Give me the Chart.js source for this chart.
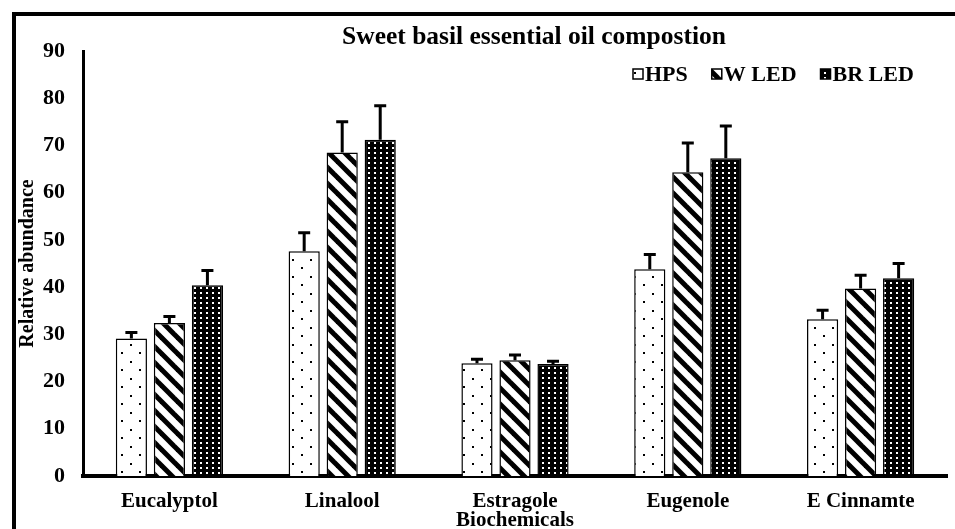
<!DOCTYPE html>
<html>
<head>
<meta charset="utf-8">
<script src="https://cdn.jsdelivr.net/npm/chart.js"></script>
<style>
  html, body { margin: 0; padding: 0; background: #fff; overflow: hidden; }
  #wrap { position: relative; width: 955px; height: 533px; }
  #marco { position: absolute; left: 12px; top: 12px; right: 0; bottom: 0;
           border-left: 4px solid #000; border-top: 4px solid #000; }
  canvas { position: absolute; left: 0; top: 0; }
</style>
</head>
<body>
<div id="wrap">
  <div id="marco"></div>
  <canvas id="myChart" width="955" height="533"></canvas>
</div>
<script>
// datos
const categorias = ['Eucalyptol', 'Linalool', 'Estragole', 'Eugenole', 'E Cinnamte'];
const series = ['HPS', 'W LED', 'BR LED'];
const valoresHPS = [29.1, 47.6, 23.9, 43.8, 33.2];
const erroresHPS = [1.3, 3.9, 0.8, 3.1, 1.9];
const valoresW = [32.4, 68.5, 24.5, 64.3, 39.7];
const erroresW = [1.4, 6.5, 1.1, 6.2, 2.8];
const valoresBR = [40.4, 71.2, 23.7, 67.3, 41.9];
const erroresBR = [3.1, 7.2, 0.6, 6.8, 3.1];
const yMin = 0, yMax = 90, yPaso = 10;
const titulo = 'Sweet basil essential oil compostion';
const tituloY = 'Relative abundance';
const tituloX = 'Biochemicals';

const fuente = '"Liberation Serif", "Times New Roman", serif';

function hacerPatron(w, h, dibujar) {
  const c = document.createElement('canvas');
  c.width = w; c.height = h;
  const g = c.getContext('2d');
  dibujar(g, w, h);
  return g.createPattern(c, 'repeat');
}

// puntos sueltos sobre blanco
const patronHPS = hacerPatron(18, 17, (g, w, h) => {
  g.fillStyle = '#fff'; g.fillRect(0, 0, w, h);
  g.fillStyle = '#000';
  g.fillRect(4, 4, 2, 2);
  g.fillRect(13, 12, 2, 2);
});
// rayas diagonales gruesas
const patronW = hacerPatron(16, 16, (g, w, h) => {
  g.fillStyle = '#fff'; g.fillRect(0, 0, w, h);
  g.strokeStyle = '#000'; g.lineWidth = 5;
  for (let k = -1; k <= 1; k++) {
    g.beginPath();
    g.moveTo(k * w - w, -h);
    g.lineTo(k * w + 2 * w, 2 * h);
    g.stroke();
  }
});
// negro con puntos blancos
const patronBR = hacerPatron(6, 5, (g, w, h) => {
  g.fillStyle = '#000'; g.fillRect(0, 0, w, h);
  g.fillStyle = '#fff';
  g.fillRect(2, 2, 2, 2);
});

const barrasError = {
  id: 'barrasError',
  afterDatasetsDraw(chart) {
    const ctx = chart.ctx;
    const escalaY = chart.scales.y;
    chart.data.datasets.forEach((ds, i) => {
      const meta = chart.getDatasetMeta(i);
      meta.data.forEach((barra, j) => {
        const arriba = escalaY.getPixelForValue(ds.data[j] + ds.errores[j]);
        ctx.save();
        ctx.strokeStyle = '#000';
        ctx.lineWidth = 3;
        ctx.beginPath();
        ctx.moveTo(barra.x, barra.y);
        ctx.lineTo(barra.x, arriba);
        ctx.moveTo(barra.x - 6, arriba);
        ctx.lineTo(barra.x + 6, arriba);
        ctx.stroke();
        ctx.restore();
      });
    });
  }
};

// titulo y leyenda dibujados a mano (la leyenda va dentro del area)
const textosExtra = {
  id: 'textosExtra',
  afterDraw(chart) {
    const ctx = chart.ctx;
    ctx.save();
    ctx.fillStyle = '#000';
    ctx.textBaseline = 'middle';
    ctx.font = 'bold 25.5px ' + fuente;
    ctx.textAlign = 'center';
    ctx.fillText(titulo, 534, 37);

    ctx.font = 'bold 22px ' + fuente;
    ctx.textAlign = 'left';
    let x = 633;
    const y = 74;
    chart.data.datasets.forEach((ds) => {
      ctx.fillStyle = ds.backgroundColor;
      ctx.fillRect(x, y - 5, 10, 10);
      ctx.strokeStyle = '#000';
      ctx.lineWidth = 1.5;
      ctx.strokeRect(x, y - 5, 10, 10);
      ctx.fillStyle = '#000';
      ctx.fillText(ds.label, x + 12, y + 1);
      x += 12 + ctx.measureText(ds.label).width + 24;
    });
    ctx.restore();
  }
};

const config = {
  type: 'bar',
  data: {
    labels: categorias,
    datasets: [
      { label: series[0], data: valoresHPS, errores: erroresHPS, backgroundColor: patronHPS },
      { label: series[1], data: valoresW, errores: erroresW, backgroundColor: patronW },
      { label: series[2], data: valoresBR, errores: erroresBR, backgroundColor: patronBR }
    ]
  },
  options: {
    responsive: false,
    animation: false,
    layout: { padding: { top: 51, right: 8, left: 0, bottom: 0 } },
    datasets: {
      bar: {
        borderColor: '#000',
        borderWidth: 1.5,
        categoryPercentage: 0.66,
        barPercentage: 0.82
      }
    },
    plugins: {
      title: { display: false },
      tooltip: { enabled: false },
      legend: { display: false }
    },
    scales: {
      x: {
        grid: { display: false },
        border: { display: true, color: '#000', width: 4 },
        ticks: {
          color: '#000',
          padding: 5,
          maxRotation: 0,
          autoSkip: false,
          font: { family: fuente, size: 21, weight: 'bold' }
        },
        title: {
          display: true,
          text: tituloX,
          color: '#000',
          padding: 0,
          font: { family: fuente, size: 21, weight: 'bold' }
        },
        afterFit: (s) => { s.height = 57; }
      },
      y: {
        min: yMin,
        max: yMax,
        grid: { display: false },
        border: { display: true, color: '#000', width: 3 },
        ticks: {
          stepSize: yPaso,
          color: '#000',
          padding: 10,
          font: { family: fuente, size: 22, weight: 'bold' }
        },
        title: {
          display: true,
          text: tituloY,
          color: '#000',
          padding: { top: 16, bottom: 0 },
          font: { family: fuente, size: 20, weight: 'bold' }
        },
        afterFit: (s) => { s.width = 83; }
      }
    }
  },
  plugins: [barrasError, textosExtra]
};

new Chart(document.getElementById('myChart'), config);
</script>
</body>
</html>
